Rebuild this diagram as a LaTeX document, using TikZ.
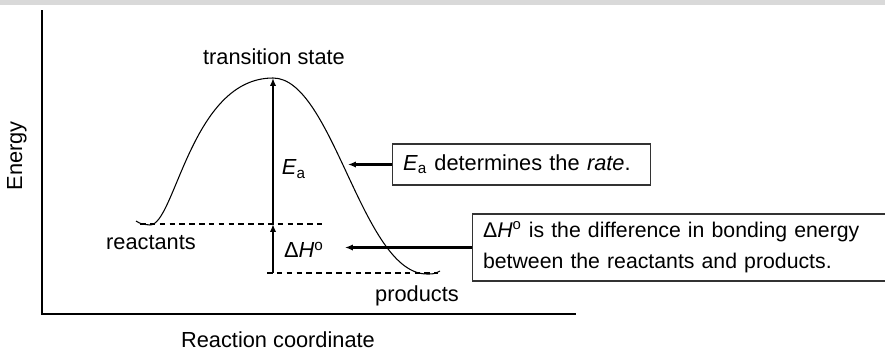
\documentclass[tikz,border=0pt]{standalone}
\usepackage{fontspec}
\setmainfont{Liberation Sans}
\usetikzlibrary{arrows.meta}
\newcommand{\Eact}{\textit{E}\textsubscript{a}}
\newcommand{\dHo}{Δ\textit{H}\textsuperscript{o}}

\begin{document}
\begin{tikzpicture}[x=0.02cm, y=-0.02cm, font=\fontsize{12.4}{18}\selectfont,
    axis/.style={line width=1.15pt},
    level/.style={dash pattern=on 3.2pt off 2.4pt, line width=0.9pt},
    gap/.style={-{Latex[length=4.5pt,width=3.6pt]}, line width=1.15pt},
    note/.style={draw=black!80, line width=0.6pt, anchor=west, align=left,
      inner xsep=6pt, inner ysep=2pt}]
    % 边框
    \useasboundingbox (0,0) rectangle (885,352);
    \fill[black!15] (0,0) rectangle (885,5);
    % 坐标轴
    \draw[axis] (42,10) -- (42,314) -- (576,314);
    \node[rotate=90] (energy) at (17,156) {Energy};
    \node (rc) at (278,340) {Reaction coordinate};
    % 能量曲线
    \coordinate (R) at (150,225);
    \coordinate (TS) at (273,78);
    \coordinate (P) at (427,274);
    \draw[line width=0.6pt] (136,221) .. controls (141,224) .. (R)
        .. controls (175,225) and (191,78) .. (TS)
        .. controls (333,78) and (362,274) .. (P)
        .. controls (434,274) .. (440,271);
    % 水平虚线
    \coordinate (r0) at (140,224);
    \coordinate (r1) at (322,224);
    \coordinate (p0) at (267,273);
    \coordinate (p1) at (438,273);
    \draw[level] (r0) -- (r1);
    \draw[level] (p0) -- (p1);
    % 能量差箭头
    \coordinate (ea0) at (273,224);
    \coordinate (dh0) at (273,273);
    \draw[gap] (ea0) -- (TS);
    \draw[gap] (dh0) -- (ea0);
    % 标签
    \node (ts) at (274,57) {transition state};
    \node (rl) at (151,243) {reactants};
    \node (pl) at (417,296) {products};
    \node (ea) at (294,169) {\Eact};
    \node (dh) at (304,250) {\dHo};
    % 说明框
    \node[note, text width=4.74cm, minimum height=0.82cm] (rate) at (392,164.5)
        {\Eact{} determines the \textit{rate}.};
    \node[note, text width=9cm, minimum height=1.34cm,
        font=\fontsize{12.1}{18}\selectfont] (diff) at (472,247.5)
        {\dHo{} is the difference in bonding energy\\
         between the reactants and products.};
    \coordinate (ra) at (348,164.5);
    \coordinate (da) at (345,247.5);
    \draw[gap] (rate.west) -- (ra);
    \draw[gap] (diff.west) -- (da);
\end{tikzpicture}
\end{document}
